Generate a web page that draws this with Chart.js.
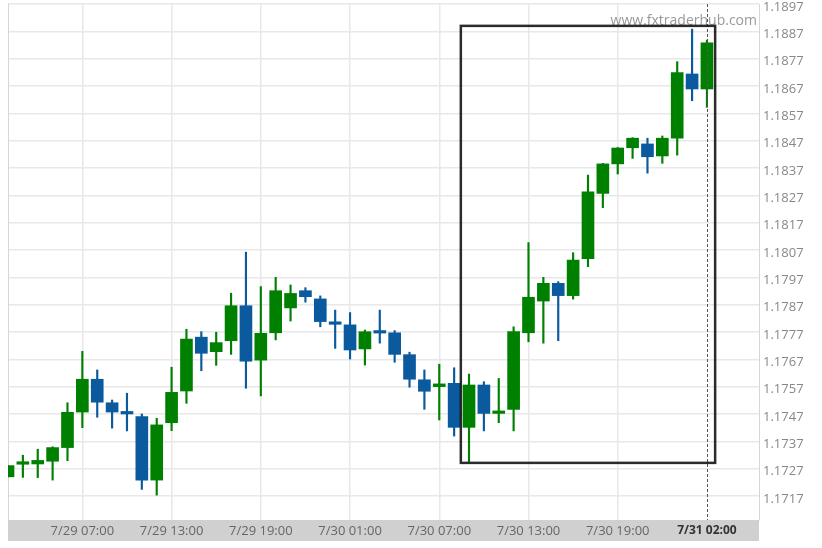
<!DOCTYPE html>
<html>
<head>
<meta charset="utf-8">
<script src="https://cdn.jsdelivr.net/npm/chart.js@4"></script>
<style>
  body { margin: 0; background: #fff; }
  canvas { display: block; }
</style>
</head>
<body>
<canvas id="chart" width="822" height="548"></canvas>
<script>
// hourly EURUSD candles
var opens  = [1.17240, 1.17286, 1.17287, 1.17297, 1.17347, 1.17477, 1.17597, 1.17511, 1.17474, 1.17460,
              1.17228, 1.17438, 1.17554, 1.17751, 1.17698, 1.17738, 1.17866, 1.17667, 1.17767, 1.17858,
              1.17921, 1.17891, 1.17801, 1.17796, 1.17708, 1.17769, 1.17767, 1.17687, 1.17595, 1.17570,
              1.17582, 1.17421, 1.17576, 1.17472, 1.17487, 1.17767, 1.17883, 1.17948, 1.17903, 1.18038,
              1.18277, 1.18385, 1.18444, 1.18458, 1.18414, 1.18479, 1.18714, 1.18659];
var highs  = [1.17281, 1.17319, 1.17341, 1.17350, 1.17511, 1.17699, 1.17631, 1.17521, 1.17546, 1.17470,
              1.17454, 1.17641, 1.17780, 1.17771, 1.17769, 1.17912, 1.18062, 1.17936, 1.17970, 1.17942,
              1.17932, 1.17902, 1.17850, 1.17841, 1.17777, 1.17850, 1.17775, 1.17696, 1.17631, 1.17652,
              1.17639, 1.17616, 1.17588, 1.17600, 1.17789, 1.18097, 1.17970, 1.17954, 1.18060, 1.18344,
              1.18387, 1.18445, 1.18481, 1.18479, 1.18487, 1.18759, 1.18878, 1.18838];
var lows   = [1.17240, 1.17238, 1.17237, 1.17228, 1.17299, 1.17420, 1.17458, 1.17418, 1.17408, 1.17194,
              1.17173, 1.17409, 1.17509, 1.17628, 1.17648, 1.17688, 1.17564, 1.17536, 1.17741, 1.17810,
              1.17879, 1.17789, 1.17710, 1.17671, 1.17649, 1.17729, 1.17659, 1.17568, 1.17487, 1.17448,
              1.17389, 1.17295, 1.17408, 1.17438, 1.17408, 1.17734, 1.17729, 1.17738, 1.17890, 1.18009,
              1.18225, 1.18348, 1.18405, 1.18351, 1.18387, 1.18417, 1.18616, 1.18592];
var closes = [1.17281, 1.17289, 1.17300, 1.17347, 1.17476, 1.17597, 1.17513, 1.17477, 1.17470, 1.17228,
              1.17430, 1.17549, 1.17744, 1.17692, 1.17731, 1.17866, 1.17663, 1.17765, 1.17921, 1.17911,
              1.17899, 1.17808, 1.17798, 1.17704, 1.17771, 1.17766, 1.17688, 1.17597, 1.17553, 1.17580,
              1.17421, 1.17576, 1.17472, 1.17475, 1.17771, 1.17897, 1.17948, 1.17903, 1.18033, 1.18283,
              1.18385, 1.18443, 1.18479, 1.18411, 1.18479, 1.18719, 1.18659, 1.18828];

var xTickPos    = [5, 11, 17, 23, 29, 35, 41, 47];
var xTickLabels = ['7/29 07:00', '7/29 13:00', '7/29 19:00', '7/30 01:00', '7/30 07:00', '7/30 13:00', '7/30 19:00', '7/31 02:00'];
var yTicks = [1.1717, 1.1727, 1.1737, 1.1747, 1.1757, 1.1767, 1.1777, 1.1787, 1.1797, 1.1807,
              1.1817, 1.1827, 1.1837, 1.1847, 1.1857, 1.1867, 1.1877, 1.1887, 1.1897];

// breakout box: from candle 30.45 to 47.55, price 1.17291 to 1.18890
var boxX = [30.45, 47.55];
var boxY = [1.17291, 1.18890];
var lastIdx = 47;

var GREEN = '#008000';
var BLUE = '#0b5a9e';

var bodies = [], wicks = [], colors = [];
for (var i = 0; i < opens.length; i++) {
    bodies.push({ x: i, y: [opens[i], closes[i]] });
    wicks.push({ x: i, y: [lows[i], highs[i]] });
    colors.push(closes[i] >= opens[i] ? GREEN : BLUE);
}

var decorPlugin = {
    id: 'decor',
    beforeDraw: function (chart) {
        var ctx = chart.ctx, a = chart.chartArea;
        ctx.save();
        ctx.fillStyle = '#d0d0d0';
        ctx.fillRect(a.left, a.bottom, a.right - a.left, 21);
        ctx.restore();
    },
    beforeDatasetsDraw: function (chart) {
        var ctx = chart.ctx, a = chart.chartArea;
        ctx.save();
        ctx.strokeStyle = '#d6d6d6';
        ctx.lineWidth = 1;
        ctx.beginPath();
        ctx.moveTo(a.left + 0.5, a.top);
        ctx.lineTo(a.left + 0.5, a.bottom);
        ctx.stroke();
        ctx.fillStyle = '#999';
        ctx.font = '14px "Open Sans"';
        ctx.textAlign = 'right';
        ctx.textBaseline = 'middle';
        ctx.fillText('www.fxtraderhub.com', 757, 21);
        ctx.restore();
    },
    afterDatasetsDraw: function (chart) {
        var ctx = chart.ctx, a = chart.chartArea;
        var xs = chart.scales.x, ys = chart.scales.y;
        ctx.save();
        var lx = Math.round(xs.getPixelForValue(lastIdx)) + 0.5;
        ctx.strokeStyle = '#555';
        ctx.lineWidth = 1;
        ctx.setLineDash([3, 2]);
        ctx.beginPath();
        ctx.moveTo(lx, a.top);
        ctx.lineTo(lx, a.bottom);
        ctx.stroke();
        ctx.setLineDash([]);
        var x0 = xs.getPixelForValue(boxX[0]), x1 = xs.getPixelForValue(boxX[1]);
        var y0 = ys.getPixelForValue(boxY[1]), y1 = ys.getPixelForValue(boxY[0]);
        ctx.strokeStyle = 'rgba(20,20,20,0.9)';
        ctx.lineWidth = 2.5;
        ctx.strokeRect(x0, y0, x1 - x0, y1 - y0);
        ctx.restore();
    }
};

var ctx = document.getElementById('chart').getContext('2d');
var candleChart = new Chart(ctx, {
    type: 'bar',
    data: {
        datasets: [{
            data: bodies,
            backgroundColor: colors,
            borderWidth: 0,
            barThickness: 12,
            minBarLength: 2.5,
            grouped: false,
            order: 0
        }, {
            data: wicks,
            backgroundColor: colors,
            borderWidth: 0,
            barThickness: 1.5,
            grouped: false,
            order: 1
        }]
    },
    options: {
        responsive: false,
        animation: false,
        layout: { padding: { left: 8, top: 4, right: 0, bottom: 0 } },
        plugins: { legend: { display: false }, tooltip: { enabled: false } },
        scales: {
            x: {
                type: 'linear',
                min: 0,
                max: 50.5,
                offset: false,
                grid: { offset: false, color: function (c) { return c.tick && c.tick.value === lastIdx ? 'rgba(0,0,0,0)' : '#e8e8e8'; }, lineWidth: 1.5, drawTicks: false },
                border: { display: false },
                afterBuildTicks: function (scale) {
                    scale.ticks = xTickPos.map(function (v) { return { value: v }; });
                },
                afterFit: function (scale) {
                    scale.height = 28;
                    scale.paddingLeft = 0;
                    scale.paddingRight = 0;
                },
                ticks: {
                    autoSkip: false,
                    maxRotation: 0,
                    padding: 3,
                    color: function (c) { return c.tick && c.tick.value === lastIdx ? '#333' : '#666'; },
                    font: function (c) {
                        return c.tick && c.tick.value === lastIdx
                            ? { family: 'Open Sans', size: 12, weight: 'bold' }
                            : { family: 'Open Sans', size: 13 };
                    },
                    callback: function (v) {
                        var k = xTickPos.indexOf(v);
                        return k >= 0 ? xTickLabels[k] : '';
                    }
                }
            },
            y: {
                position: 'right',
                min: 1.17082,
                max: 1.1897,
                beginAtZero: false,
                grid: { color: '#e8e8e8', lineWidth: 1.5, drawTicks: false },
                border: { display: true, color: '#d6d6d6' },
                afterBuildTicks: function (scale) {
                    scale.ticks = yTicks.map(function (v) { return { value: v }; });
                },
                afterFit: function (scale) {
                    scale.width = 63;
                    scale.paddingTop = 0;
                    scale.paddingBottom = 0;
                },
                ticks: {
                    padding: 4,
                    labelOffset: 3,
                    color: '#888',
                    font: { family: 'Open Sans', size: 13 },
                    callback: function (v) { return v.toFixed(4); }
                }
            }
        }
    },
    plugins: [decorPlugin]
});
</script>
</body>
</html>
